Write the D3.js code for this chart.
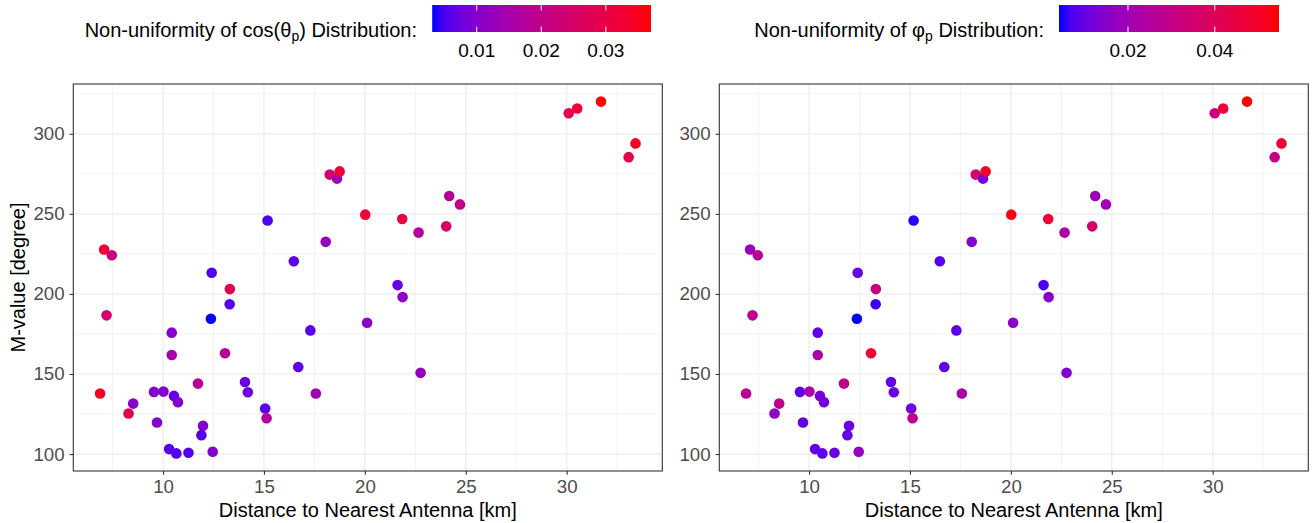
<!DOCTYPE html>
<html>
<head>
<meta charset="utf-8">
<script src="https://cdn.jsdelivr.net/npm/d3@7"></script>
<style>
  body { margin: 0; background: #fff; }
  svg { display: block; font-family: "Liberation Sans", Arial, sans-serif; }
</style>
</head>
<body>
<svg id="chart" width="1315" height="523"></svg>
<script>
// ---- data ----
const distanceKm = [7.08, 7.46, 12.41, 13.31, 15.18, 16.48, 18.06, 18.26, 18.62, 18.75,
  13.30, 12.37, 7.20, 10.43, 10.43, 13.07, 17.30, 16.70, 6.88, 9.55,
  10.02, 10.54, 10.74, 8.52, 8.29, 9.70, 11.73, 14.06, 14.20, 15.06,
  15.13, 17.57, 11.98, 11.90, 10.30, 10.66, 11.26, 12.46, 20.02, 21.85,
  22.66, 24.03, 24.18, 24.71, 21.62, 21.87, 20.11, 22.76, 30.10, 30.52,
  31.70, 33.07, 33.41];
const mValue = [227.7, 224.1, 213.2, 203.0, 245.8, 220.4, 232.5, 274.5, 272.0, 276.5,
  193.5, 184.5, 186.6, 175.8, 161.9, 162.9, 177.2, 154.4, 137.8, 138.8,
  139.0, 136.3, 132.4, 131.5, 125.3, 119.7, 144.0, 145.0, 138.6, 128.4,
  122.4, 137.8, 117.6, 111.8, 103.1, 100.4, 100.8, 101.4, 249.5, 246.8,
  238.3, 242.2, 261.1, 255.9, 205.5, 198.0, 182.0, 150.7, 312.8, 315.8,
  320.1, 285.4, 294.0];
const cosNonUniformity = [0.0319, 0.0214, 0.0055, 0.0275, 0.0051, 0.0065, 0.0123, 0.0245, 0.0139, 0.0319,
  0.0058, 0.0031, 0.0245, 0.0099, 0.0153, 0.0180, 0.0058, 0.0062, 0.0343, 0.0099,
  0.0095, 0.0065, 0.0099, 0.0106, 0.0285, 0.0099, 0.0180, 0.0072, 0.0078, 0.0065,
  0.0167, 0.0139, 0.0099, 0.0055, 0.0058, 0.0055, 0.0058, 0.0099, 0.0323, 0.0302,
  0.0167, 0.0245, 0.0180, 0.0201, 0.0072, 0.0112, 0.0109, 0.0123, 0.0285, 0.0323,
  0.0370, 0.0289, 0.0343];
const phiNonUniformity = [0.0178, 0.0264, 0.0102, 0.0315, 0.0051, 0.0082, 0.0142, 0.0360, 0.0122, 0.0507,
  0.0061, 0.0041, 0.0284, 0.0092, 0.0224, 0.0477, 0.0087, 0.0089, 0.0264, 0.0092,
  0.0224, 0.0122, 0.0117, 0.0284, 0.0163, 0.0092, 0.0284, 0.0092, 0.0102, 0.0117,
  0.0274, 0.0229, 0.0102, 0.0097, 0.0087, 0.0087, 0.0102, 0.0178, 0.0528, 0.0477,
  0.0224, 0.0360, 0.0188, 0.0203, 0.0071, 0.0142, 0.0153, 0.0137, 0.0315, 0.0477,
  0.0548, 0.0300, 0.0477];
const xTicks = [10, 15, 20, 25, 30];
const xMinorTicks = [7.5, 12.5, 17.5, 22.5, 27.5, 32.5];
const yTicks = [100, 150, 200, 250, 300];
const yMinorTicks = [125, 175, 225, 275, 325];
const cosLegendTicks = [0.01, 0.02, 0.03];
const phiLegendTicks = [0.02, 0.04];
const xTitle = "Distance to Nearest Antenna [km]";
const yTitle = "M-value [degree]";

// ---- layout ----
const svg = d3.select("#chart");
const panelTop = 84, panelBottom = 471;
const panels = [
  { left: 73.3, right: 662.3, values: cosNonUniformity, legendTicks: cosLegendTicks,
    titleMain: "Non-uniformity of cos(\u03B8", titleSub: "p", titleEnd: ") Distribution:",
    titleRight: 417, barLeft: 432.2, barRight: 651, yTitle: true },
  { left: 719.3, right: 1308.3, values: phiNonUniformity, legendTicks: phiLegendTicks,
    titleMain: "Non-uniformity of \u03C6", titleSub: "p", titleEnd: " Distribution:",
    titleRight: 1044, barLeft: 1059, barRight: 1279, yTitle: false }
];

function expand(ext, mult) {
  const d = ext[1] - ext[0];
  return [ext[0] - d * mult, ext[1] + d * mult];
}
const xDomain = expand(d3.extent(distanceKm), 0.05);
const yDomain = expand(d3.extent(mValue), 0.05);
const points = distanceKm.map((d, i) => ({ x: d, y: mValue[i], i }));

const defs = svg.append("defs");

panels.forEach((p, pi) => {
  const x = d3.scaleLinear().domain(xDomain).range([p.left, p.right]);
  const y = d3.scaleLinear().domain(yDomain).range([panelBottom, panelTop]);
  const color = d3.scaleSequential(d3.interpolateLab("blue", "red")).domain(d3.extent(p.values));

  const g = svg.append("g");
  g.append("rect").attr("x", p.left).attr("y", panelTop)
    .attr("width", p.right - p.left).attr("height", panelBottom - panelTop).attr("fill", "#fff");

  // minor grid
  g.selectAll(".xminor").data(xMinorTicks.filter(v => v > xDomain[0] && v < xDomain[1])).enter()
    .append("line").attr("x1", d => x(d)).attr("x2", d => x(d)).attr("y1", panelTop).attr("y2", panelBottom)
    .attr("stroke", "#EBEBEB").attr("stroke-width", 0.6);
  g.selectAll(".yminor").data(yMinorTicks.filter(v => v > yDomain[0] && v < yDomain[1])).enter()
    .append("line").attr("y1", d => y(d)).attr("y2", d => y(d)).attr("x1", p.left).attr("x2", p.right)
    .attr("stroke", "#EBEBEB").attr("stroke-width", 0.6);
  // major grid
  g.selectAll(".xmajor").data(xTicks).enter()
    .append("line").attr("x1", d => x(d)).attr("x2", d => x(d)).attr("y1", panelTop).attr("y2", panelBottom)
    .attr("stroke", "#EBEBEB").attr("stroke-width", 1.2);
  g.selectAll(".ymajor").data(yTicks).enter()
    .append("line").attr("y1", d => y(d)).attr("y2", d => y(d)).attr("x1", p.left).attr("x2", p.right)
    .attr("stroke", "#EBEBEB").attr("stroke-width", 1.2);

  // points
  g.selectAll("circle").data(points).enter().append("circle")
    .attr("cx", d => x(d.x)).attr("cy", d => y(d.y)).attr("r", 5.3)
    .attr("fill", d => color(p.values[d.i]));

  // border
  g.append("rect").attr("x", p.left).attr("y", panelTop)
    .attr("width", p.right - p.left).attr("height", panelBottom - panelTop)
    .attr("fill", "none").attr("stroke", "#333333").attr("stroke-width", 1.1);

  // axes
  const xAxis = d3.axisBottom(x).tickValues(xTicks).tickSize(3.7).tickPadding(5).tickFormat(d3.format("d"));
  const ax = g.append("g").attr("transform", `translate(0,${panelBottom})`).call(xAxis);
  ax.select(".domain").remove();
  ax.selectAll(".tick line").attr("stroke", "#333333").attr("stroke-width", 1.1);
  ax.selectAll(".tick text").attr("fill", "#4D4D4D").attr("font-size", 18.7)
    .attr("font-family", "Liberation Sans, Arial, sans-serif").attr("dy", "0.71em");

  const yAxis = d3.axisLeft(y).tickValues(yTicks).tickSize(3.7).tickPadding(5).tickFormat(d3.format("d"));
  const ay = g.append("g").attr("transform", `translate(${p.left},0)`).call(yAxis);
  ay.select(".domain").remove();
  ay.selectAll(".tick line").attr("stroke", "#333333").attr("stroke-width", 1.1);
  ay.selectAll(".tick text").attr("fill", "#4D4D4D").attr("font-size", 18.7)
    .attr("font-family", "Liberation Sans, Arial, sans-serif");

  // axis titles
  g.append("text").attr("x", (p.left + p.right) / 2).attr("y", 517)
    .attr("text-anchor", "middle").attr("font-size", 20).attr("fill", "#000").text(xTitle);
  if (p.yTitle) {
    g.append("text").attr("transform", `translate(25,${(panelTop + panelBottom) / 2}) rotate(-90)`)
      .attr("text-anchor", "middle").attr("font-size", 20).attr("fill", "#000").text(yTitle);
  }

  // legend (colourbar)
  const gradId = "grad" + pi;
  const grad = defs.append("linearGradient").attr("id", gradId)
    .attr("x1", "0%").attr("x2", "100%").attr("y1", "0%").attr("y2", "0%");
  const dom = color.domain();
  d3.range(0, 1.0001, 0.05).forEach(t => {
    grad.append("stop").attr("offset", (t * 100) + "%")
      .attr("stop-color", color(dom[0] + t * (dom[1] - dom[0])));
  });
  const barTop = 5, barBottom = 32;
  const lx = d3.scaleLinear().domain(dom).range([p.barLeft, p.barRight]);
  const lg = svg.append("g");
  lg.append("rect").attr("x", p.barLeft).attr("y", barTop)
    .attr("width", p.barRight - p.barLeft).attr("height", barBottom - barTop)
    .attr("fill", `url(#${gradId})`);
  p.legendTicks.forEach(v => {
    lg.append("line").attr("x1", lx(v)).attr("x2", lx(v)).attr("y1", barTop).attr("y2", barTop + 5.4)
      .attr("stroke", "#fff").attr("stroke-width", 1);
    lg.append("line").attr("x1", lx(v)).attr("x2", lx(v)).attr("y1", barBottom - 5.4).attr("y2", barBottom)
      .attr("stroke", "#fff").attr("stroke-width", 1);
    lg.append("text").attr("x", lx(v)).attr("y", 57).attr("text-anchor", "middle")
      .attr("font-size", 19).attr("fill", "#000").text(d3.format(".2f")(v));
  });
  const title = lg.append("text").attr("x", p.titleRight).attr("y", 36.5)
    .attr("text-anchor", "end").attr("font-size", 20).attr("fill", "#000");
  title.append("tspan").text(p.titleMain);
  title.append("tspan").attr("font-size", 14).attr("dy", 4.5).text(p.titleSub);
  title.append("tspan").attr("dy", -4.5).text(p.titleEnd);
});
</script>
</body>
</html>
